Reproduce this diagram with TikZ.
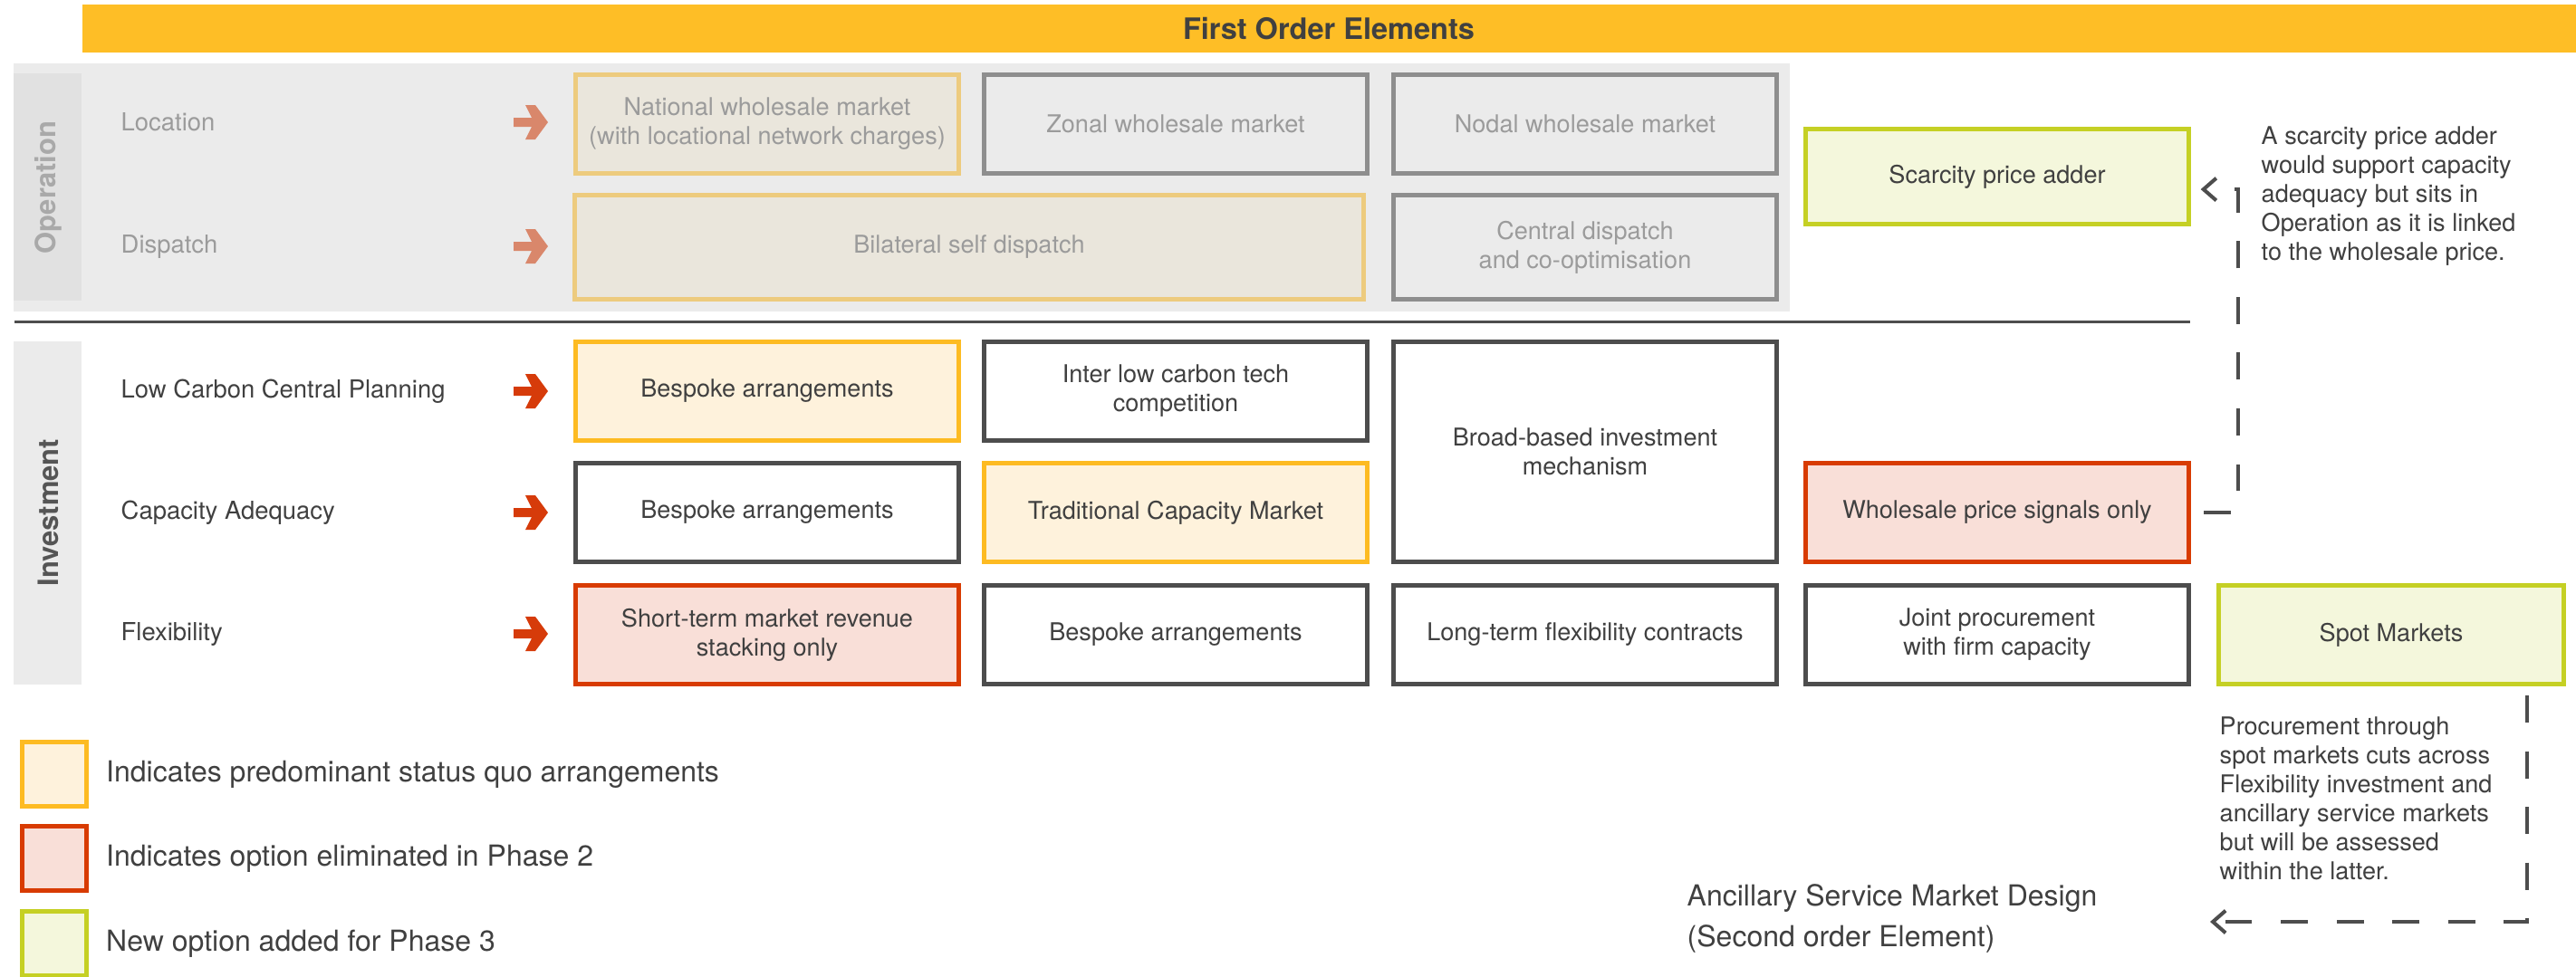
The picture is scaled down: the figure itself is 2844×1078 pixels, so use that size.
\documentclass[tikz,border=0pt]{standalone}
\usepackage{fontspec}
\setmainfont{TeX Gyre Heros}
\usetikzlibrary{arrows.meta,positioning}

\definecolor{hdrgold}{HTML}{FEBE26}
\definecolor{opback}{HTML}{EBEBEB}
\definecolor{opside}{HTML}{E1E1E1}
\definecolor{optext}{HTML}{9B9B9B}
\definecolor{opsidetext}{HTML}{A9A9A9}
\definecolor{opline}{HTML}{8E8E8E}
\definecolor{invline}{HTML}{4D4D4D}
\definecolor{invtext}{HTML}{404040}
\definecolor{invsidetext}{HTML}{555555}
\definecolor{sqline}{HTML}{FDBB22}
\definecolor{sqfill}{HTML}{FEF2DC}
\definecolor{sqlinefade}{HTML}{EDCB7E}
\definecolor{sqfillfade}{HTML}{EAE6DC}
\definecolor{elline}{HTML}{D83B02}
\definecolor{elfill}{HTML}{F9DFD8}
\definecolor{nwline}{HTML}{C5D024}
\definecolor{nwfill}{HTML}{F4F7DC}
\definecolor{oparrow}{HTML}{D9876B}
\definecolor{invarrow}{HTML}{D63B0A}

\tikzset{
  cell/.style={draw, line width=1.42pt, minimum width=4.23cm, minimum height=1.08cm,
    align=center, inner sep=2pt, font=\fontsize{7.7pt}{9.1pt}\selectfont},
  opcell/.style={cell, draw=opline, fill=opback, text=optext},
  opquo/.style={cell, draw=sqlinefade, fill=sqfillfade, text=optext},
  invcell/.style={cell, draw=invline, fill=white, text=invtext},
  quocell/.style={cell, draw=sqline, fill=sqfill, text=invtext},
  elimcell/.style={cell, draw=elline, fill=elfill, text=invtext},
  newcell/.style={cell, draw=nwline, fill=nwfill, text=invtext},
  rowlabel/.style={anchor=west, inner sep=0pt, font=\fontsize{7.8pt}{9.1pt}\selectfont},
  sidelabel/.style={rotate=90, inner sep=0pt, font=\bfseries\fontsize{8.8pt}{10pt}\selectfont},
  note/.style={anchor=north west, align=left, inner sep=0pt, text=invtext,
    font=\fontsize{7.7pt}{9.1pt}\selectfont},
  noteline/.style={draw=invline, line width=1.15pt, dash pattern=on 8.5pt off 9pt},
  legsq/.style={draw, line width=1.42pt, minimum size=0.70cm, inner sep=0pt},
  legtext/.style={right=0.19cm of #1, inner sep=0pt, text=invtext,
    font=\fontsize{9.1pt}{11pt}\selectfont},
}

\begin{document}
\begin{tikzpicture}[x=0.01cm,y=-0.01cm]
    \useasboundingbox (0,0) rectangle (2844,1078);

    % Header bar
    \fill[hdrgold] (91,5) rectangle (2844,58);
    \node[font=\bfseries\fontsize{9.25pt}{11pt}\selectfont, text=invtext] (hdr) at (1467,32) {First Order Elements};

    % Operation block (grey background)
    \fill[opback] (15,70) rectangle (1976,344);
    \fill[opside] (15,81) rectangle (90,332);
    \node[sidelabel, text=opsidetext] (opside) at (53,207) {Operation};

    % Separator between Operation and Investment
    \draw[invline, line width=0.85pt] (16,355) -- (2418,355);

    % Investment side bar
    \fill[opback] (15,377) rectangle (90,756);
    \node[sidelabel, text=invsidetext] (invside) at (53,566) {Investment};

    % Row labels
    \node[rowlabel, text=optext] (loc) at (133,135) {Location};
    \node[rowlabel, text=optext] (disp) at (133,272) {Dispatch};
    \node[rowlabel, text=invtext] (lccp) at (133,432) {Low Carbon Central Planning};
    \node[rowlabel, text=invtext] (capad) at (133,566) {Capacity Adequacy};
    \node[rowlabel, text=invtext] (flex) at (133,700) {Flexibility};

    % Row arrows
    \foreach \y in {135,272}
      \fill[oparrow] (567,\y) ++(0,-5) -- ++(20,0) -- ++(-7,-14) -- ++(11,0) -- ++(14,19)
        -- ++(-14,19) -- ++(-11,0) -- ++(7,-14) -- ++(-20,0) -- cycle;
    \foreach \y in {432,566,700}
      \fill[invarrow] (567,\y) ++(0,-5) -- ++(20,0) -- ++(-7,-14) -- ++(11,0) -- ++(14,19)
        -- ++(-14,19) -- ++(-11,0) -- ++(7,-14) -- ++(-20,0) -- cycle;

    % Operation options
    \node[opquo] (natl) at (847,137) {National wholesale market\\(with locational network charges)};
    \node[opcell] (zonal) at (1298,137) {Zonal wholesale market};
    \node[opcell] (nodal) at (1750,137) {Nodal wholesale market};
    \node[opquo, minimum width=8.70cm, minimum height=1.15cm] (bilat) at (1070,273) {Bilateral self dispatch};
    \node[opcell, minimum height=1.15cm] (central) at (1750,273) {Central dispatch\\and co-optimisation};

    % Scarcity price adder (new)
    \node[newcell, minimum height=1.04cm] (spa) at (2205,195) {Scarcity price adder};

    % Investment options
    \node[quocell] (bsp1) at (847,432) {Bespoke arrangements};
    \node[invcell] (iltc) at (1298,432) {Inter low carbon tech\\competition};
    \node[invcell, minimum height=2.42cm] (bbim) at (1750,499) {Broad-based investment\\mechanism};

    \node[invcell] (bsp2) at (847,566) {Bespoke arrangements};
    \node[quocell] (tcm) at (1298,566) {Traditional Capacity Market};
    \node[elimcell] (wsp) at (2205,566) {Wholesale price signals only};

    \node[elimcell] (stm) at (847,701) {Short-term market revenue\\stacking only};
    \node[invcell] (bsp3) at (1298,701) {Bespoke arrangements};
    \node[invcell] (ltfc) at (1750,701) {Long-term flexibility contracts};
    \node[invcell] (jpfc) at (2205,701) {Joint procurement\\with firm capacity};
    \node[newcell, minimum width=3.80cm] (spot) at (2640,701) {Spot Markets};

    % Notes
    \node[note] (scnote) at (2496,139) {A scarcity price adder\\would support capacity\\adequacy but sits in\\Operation as it is linked\\to the wholesale price.};
    \node[note] (spnote) at (2450,791) {Procurement through\\spot markets cuts across\\Flexibility investment and\\ancillary service markets\\but will be assessed\\within the latter.};
    \node[note, font=\fontsize{9.1pt}{12.8pt}\selectfont] (asmd) at (1862,976) {Ancillary Service Market Design\\(Second order Element)};

    % Dashed links
    \coordinate (asmtip) at (2440,1018);
    \draw[noteline, -{Straight Barb[length=4pt,width=7pt]}] ([xshift=4pt]wsp.east) -- ++(38,0) |- ([xshift=3pt,yshift=-4pt]spa.east);
    \draw[noteline, -{Straight Barb[length=4pt,width=7pt]}] ([xshift=-12pt,yshift=-3pt]spot.south east) |- (asmtip);

    % Legend
    \node[legsq, draw=sqline, fill=sqfill] (lgquo) at (60,855) {};
    \node[legsq, draw=elline, fill=elfill] (lgelim) at (60,948) {};
    \node[legsq, draw=nwline, fill=nwfill] (lgnew) at (60,1042) {};
    \node[legtext=lgquo] (lgquotxt) {Indicates predominant status quo arrangements};
    \node[legtext=lgelim] (lgelimtxt) {Indicates option eliminated in Phase 2};
    \node[legtext=lgnew] (lgnewtxt) {New option added for Phase 3};
\end{tikzpicture}
\end{document}
